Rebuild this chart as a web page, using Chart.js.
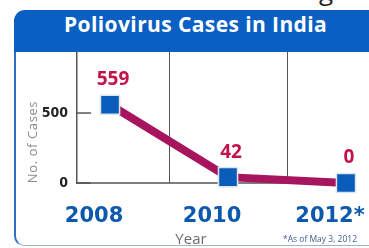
<!DOCTYPE html>
<html>
<head>
<meta charset="utf-8">
<script src="https://cdn.jsdelivr.net/npm/chart.js@4/dist/chart.umd.min.js"></script>
<style>
  body { margin: 0; background: #fff; }
  #wrap { position: relative; width: 369px; height: 248px; overflow: hidden; background: #fff; }
  #pageText { position: absolute; left: 197px; top: -28px; font: 26px "Open Sans", sans-serif; color: #222; white-space: nowrap; }
  #frame { position: absolute; left: 14px; top: 20px; width: 420px; height: 225px;
           border-left: 2px solid #2d6fc4; border-bottom: 1px solid #9fb3cc; border-bottom-left-radius: 10px; }
  #header { position: absolute; left: 14px; top: 10px; width: 420px; height: 42px; background: #0a5fc2;
            border-top-left-radius: 11px; }
  #header span { position: absolute; left: 50px; top: 0; line-height: 42px; color: #fff;
                 font: bold 21px "Open Sans", sans-serif; letter-spacing: 0.4px; white-space: nowrap; }
  canvas { position: absolute; left: 0; top: 0; }
</style>
</head>
<body>
<div id="wrap">
  <div id="pageText">ses in the globe</div>
  <div id="frame"></div>
  <div id="header"><span>Poliovirus Cases in India</span></div>
  <canvas id="chart" width="369" height="248"></canvas>
</div>
<script>
const years = [2008, 2010, 2012];
const yearLabels = ["2008", "2010", "2012*"];
const cases = [559, 42, 0];
const caseTicks = [0, 500];
const dividerYears = [2009, 2011];

const axisColor = "#555";

// value labels, axis titles, inner tick marks and footnote
const extras = {
  id: "extras",
  beforeDatasetsDraw(chart) {
    const { ctx, chartArea, scales } = chart;
    ctx.save();
    ctx.strokeStyle = axisColor;
    ctx.lineWidth = 1.5;
    // bottom axis line stops at last divider
    ctx.beginPath();
    ctx.moveTo(chartArea.left, chartArea.bottom);
    ctx.lineTo(scales.x.getPixelForValue(dividerYears[dividerYears.length - 1]), chartArea.bottom);
    ctx.stroke();
    // short tick marks drawn inward
    caseTicks.forEach(v => {
      const y = scales.y.getPixelForValue(v);
      ctx.beginPath();
      ctx.moveTo(chartArea.left, y);
      ctx.lineTo(chartArea.left + 14, y);
      ctx.stroke();
    });
    ctx.restore();
  },
  afterDatasetsDraw(chart) {
    const { ctx } = chart;
    const meta = chart.getDatasetMeta(0);
    ctx.save();
    ctx.font = "bold 19px 'Open Sans'";
    ctx.fillStyle = "#c4124a";
    ctx.textAlign = "center";
    ctx.textBaseline = "middle";
    meta.data.forEach((pt, i) => {
      ctx.fillText(String(cases[i]), pt.x + 3, pt.y - 25);
    });

    // y title
    ctx.save();
    ctx.translate(33, 142);
    ctx.rotate(-Math.PI / 2);
    ctx.font = "13px 'Open Sans'";
    ctx.letterSpacing = "0.6px";
    ctx.fillStyle = "#8c8c8c";
    ctx.fillText("No. of Cases", 0, 0);
    ctx.restore();

    // x title
    ctx.font = "15px 'Open Sans'";
    ctx.fillStyle = "#6d6d6d";
    ctx.textBaseline = "alphabetic";
    ctx.fillText("Year", 191, 244);

    // footnote
    ctx.font = "8.5px 'Open Sans'";
    ctx.fillStyle = "#3d5e91";
    ctx.fillText("*As of May 3, 2012", 320, 242);
    ctx.restore();
  }
};

new Chart(document.getElementById("chart"), {
  type: "line",
  data: {
    datasets: [{
      data: years.map((y, i) => ({ x: y, y: cases[i] })),
      borderColor: "#a6155d",
      borderWidth: 8,
      pointStyle: "rect",
      pointRadius: 13.5,
      pointBackgroundColor: "#0a5cba",
      pointBorderColor: "#dde5ef",
      pointBorderWidth: 1.5,
      clip: false
    }]
  },
  options: {
    responsive: false,
    animation: false,
    layout: { autoPadding: false, padding: { top: 52, left: 0, right: 0, bottom: 0 } },
    plugins: {
      legend: { display: false },
      tooltip: { enabled: false }
    },
    scales: {
      x: {
        type: "linear",
        min: 2007.44,
        max: 2012.39,
        afterBuildTicks: scale => {
          scale.ticks = years.concat(dividerYears).sort().map(v => ({ value: v }));
        },
        afterFit: scale => {
          scale.height = 65;
          scale.paddingLeft = 0;
          scale.paddingRight = 0;
        },
        grid: {
          drawTicks: false,
          color: c => (c.tick && dividerYears.includes(c.tick.value)) ? axisColor : "transparent",
          lineWidth: 1
        },
        border: { display: false },
        ticks: {
          autoSkip: false,
          maxRotation: 0,
          padding: 21,
          labelOffset: -16,
          color: "#0c59ae",
          font: { family: "DejaVu Sans", weight: "bold", size: 21 },
          callback: v => {
            const i = years.indexOf(v);
            return i >= 0 ? yearLabels[i] : "";
          }
        }
      },
      y: {
        min: 0,
        max: 936,
        afterBuildTicks: scale => {
          scale.ticks = caseTicks.map(v => ({ value: v }));
        },
        afterFit: scale => {
          scale.width = 77;
          scale.paddingTop = 0;
          scale.paddingBottom = 0;
        },
        grid: { drawOnChartArea: false, drawTicks: false },
        border: { display: true, color: axisColor, width: 1.5 },
        ticks: {
          padding: 9,
          color: "#222",
          font: { family: "DejaVu Sans Condensed", weight: "bold", size: 14 }
        }
      }
    }
  },
  plugins: [extras]
});
</script>
</body>
</html>
